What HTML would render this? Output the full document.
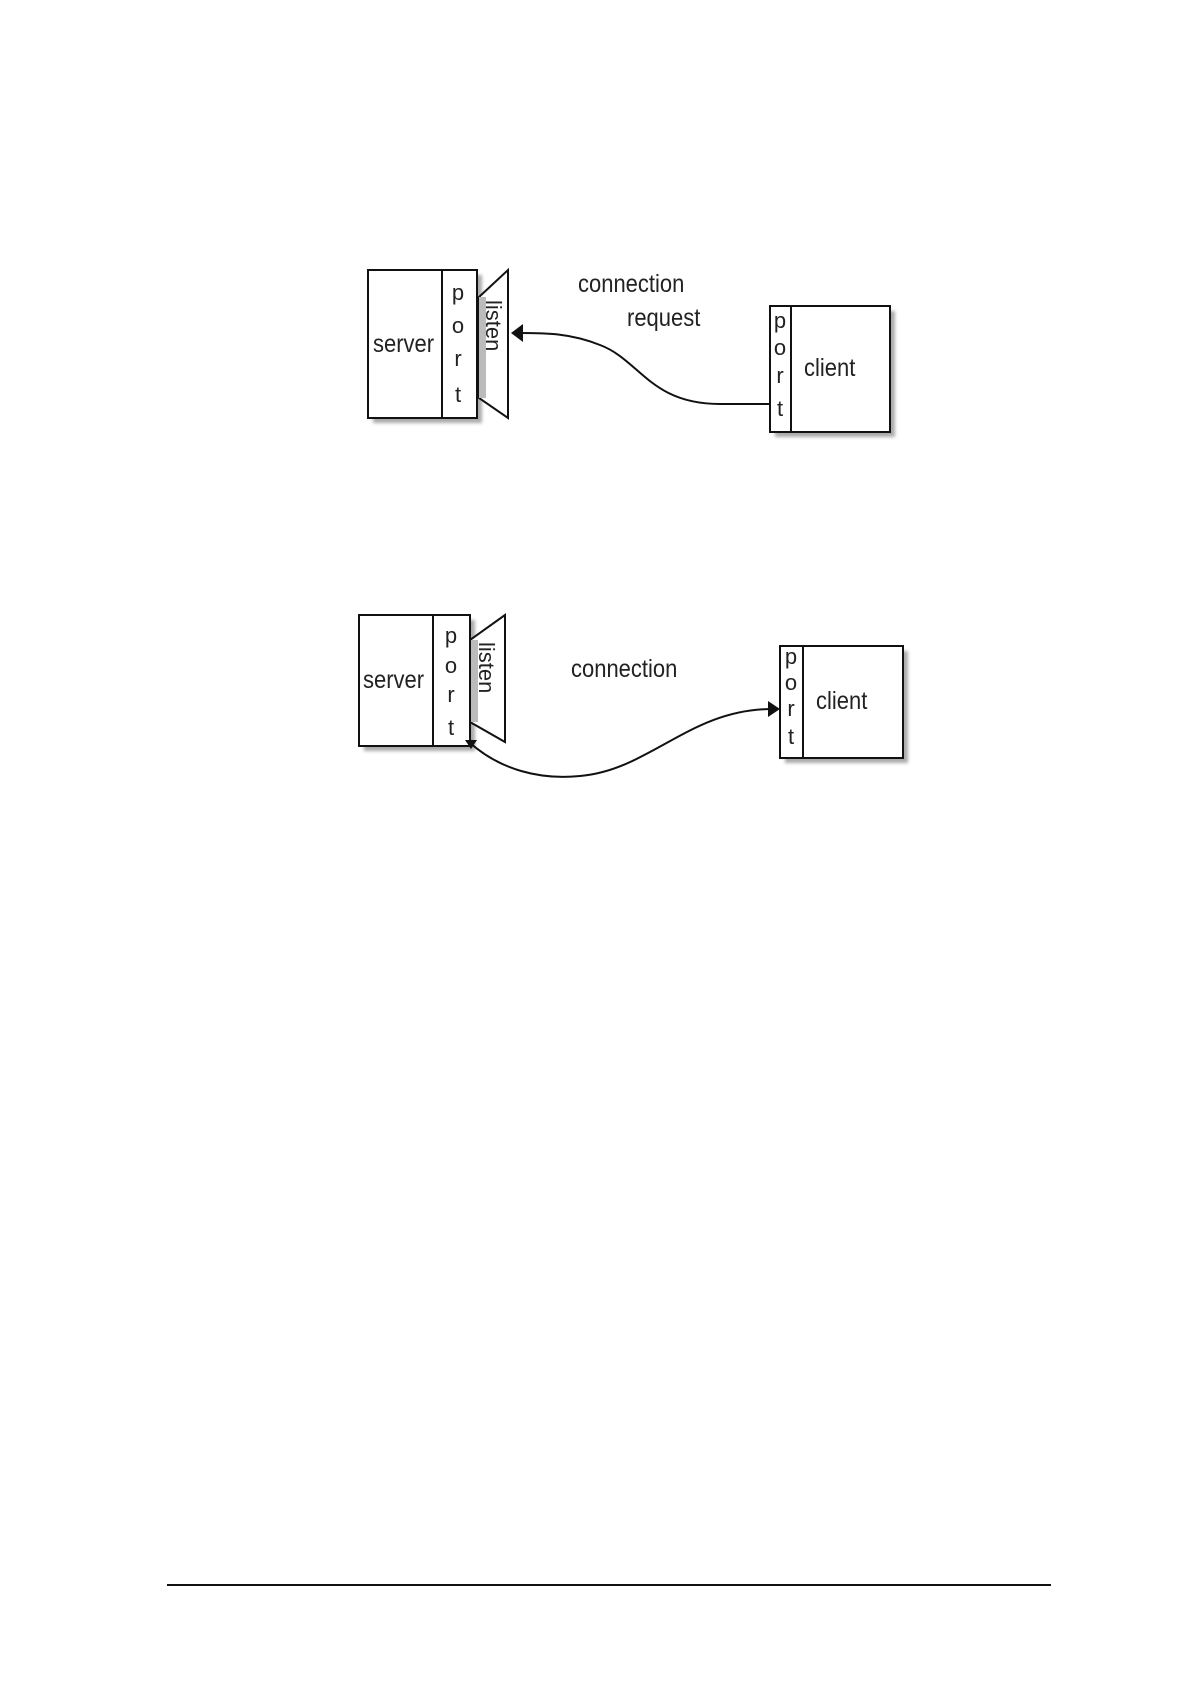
<!DOCTYPE html>
<html><head><style>
html,body{margin:0;padding:0;background:#fff}
svg text{font-family:"Liberation Sans",sans-serif;fill:#222}
</style></head><body>
<svg width="1192" height="1686" xmlns="http://www.w3.org/2000/svg">
<defs>
<filter id="b"><feGaussianBlur stdDeviation="1.5"/></filter>
</defs>
<g fill="#aaa" filter="url(#b)">
<rect x="373" y="275" width="109" height="148"/>
<rect x="775" y="311" width="120" height="126"/>
<rect x="364" y="620" width="111" height="131"/>
<rect x="785" y="651" width="123" height="112"/>
</g>
<g stroke="#111" stroke-width="2" fill="#fff">
<rect x="368" y="270" width="109" height="148"/>
<line x1="442" y1="270" x2="442" y2="418"/>
<polygon points="479,297 508,270 508,418 479,398" fill="#fff"/>
<rect x="479" y="297" width="7" height="101" fill="#bbb" stroke="none"/>
<rect x="770" y="306" width="120" height="126"/>
<line x1="791" y1="306" x2="791" y2="432"/>
<rect x="359" y="615" width="111" height="131"/>
<line x1="433" y1="615" x2="433" y2="746"/>
<polygon points="470,640 505,615 505,742 470,722" fill="#fff"/>
<rect x="471" y="640" width="7" height="82" fill="#bbb" stroke="none"/>
<rect x="780" y="646" width="123" height="112"/>
<line x1="803" y1="646" x2="803" y2="758"/>
</g>
<g fill="none" stroke="#111" stroke-width="2">
<path d="M770,404 L720,404 C650,404 640,360 600,345 C570,333 545,333 520,333"/>
<path d="M469,742 C500,770 540,780 580,776 C650,770 690,709 772,709"/>
</g>
<polygon points="511,333 523,324 523,342" fill="#111"/>
<polygon points="780,709 768,701 768,717" fill="#111"/>
<polygon points="465,740 477,740 471,749" fill="#111"/>
<g font-size="25">
<text x="578" y="292" transform="translate(578 0) scale(0.88 1) translate(-578 0)">connection</text>
<text x="627" y="326" transform="translate(627 0) scale(0.88 1) translate(-627 0)">request</text>
<text x="373" y="352" transform="translate(373 0) scale(0.88 1) translate(-373 0)">server</text>
<text x="804" y="376" transform="translate(804 0) scale(0.88 1) translate(-804 0)">client</text>
<text x="571" y="677" transform="translate(571 0) scale(0.88 1) translate(-571 0)">connection</text>
<text x="363" y="688" transform="translate(363 0) scale(0.88 1) translate(-363 0)">server</text>
<text x="816" y="709" transform="translate(816 0) scale(0.88 1) translate(-816 0)">client</text>
</g>
<g font-size="22" text-anchor="middle">
<text x="458" y="300">p</text><text x="458" y="333">o</text><text x="458" y="366">r</text><text x="458" y="402">t</text>
<text x="780" y="328">p</text><text x="780" y="355">o</text><text x="780" y="383">r</text><text x="780" y="416">t</text>
<text x="451" y="643">p</text><text x="451" y="673">o</text><text x="451" y="702">r</text><text x="451" y="735">t</text>
<text x="791" y="664">p</text><text x="791" y="690">o</text><text x="791" y="716">r</text><text x="791" y="744">t</text>
</g>
<g font-size="22">
<text transform="translate(486 300) rotate(90)">listen</text>
<text transform="translate(479 642) rotate(90)">listen</text>
</g>
<line x1="167" y1="1585" x2="1051" y2="1585" stroke="#111" stroke-width="2"/>
</svg>
</body></html>
